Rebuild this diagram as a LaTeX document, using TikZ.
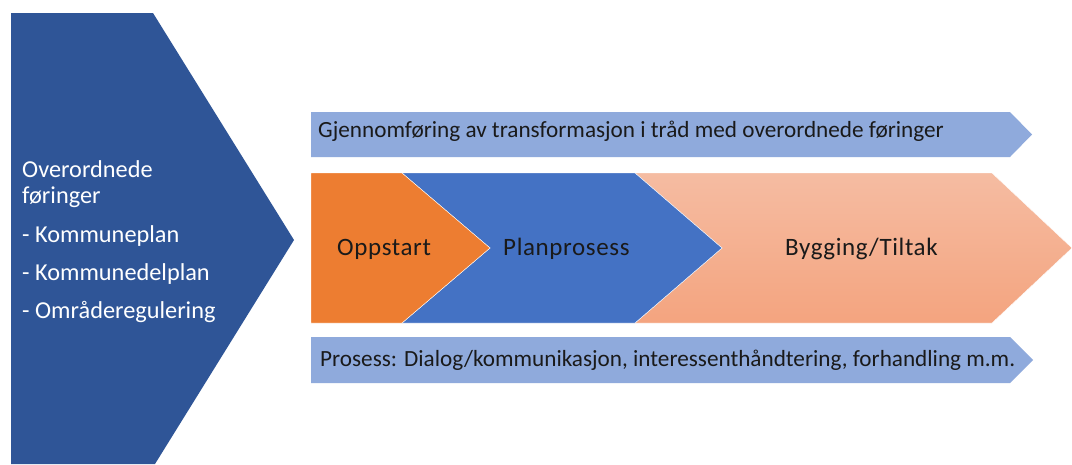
\documentclass[tikz,border=0pt]{standalone}
\usepackage{fontspec}
\setmainfont{Carlito}
\newfontfamily\phasefont[LetterSpace=2.5]{Carlito}
\definecolor{navy}{HTML}{2F5597}
\definecolor{paleblue}{HTML}{8FAADC}
\definecolor{phaseorange}{HTML}{ED7D31}
\definecolor{phaseblue}{HTML}{4472C4}
\definecolor{peachtop}{HTML}{F5BCA2}
\definecolor{peachbot}{HTML}{F4A47F}
\definecolor{ink}{HTML}{1A1A1A}
\tikzset{
  lefttext/.style={anchor=base west, inner sep=0pt, text=white, font=\fontsize{24.3}{28}\selectfont},
  bartext/.style={anchor=base west, inner sep=0pt, text=ink, font=\fontsize{23.2}{27}\selectfont},
  phasetext/.style={anchor=base west, inner sep=0pt, text=ink, font=\phasefont\fontsize{25}{29}\selectfont},
  shapeline/.style={draw=white, line width=0.4pt}
}
\begin{document}
\begin{tikzpicture}[x=1pt,y=-1pt]
\useasboundingbox (0,0) rectangle (1072,464);
\fill[white] (0,0) rectangle (1072,464);

% large chevron on the left
\fill[navy] (11,13) -- (153,13) -- (294,240) -- (155,464) -- (11,464) -- cycle;
\node[lefttext] (l1) at (22,177) {Overordnede};
\node[lefttext] (l2) at (22,203) {føringer};
\node[lefttext] (l3) at (22,242) {- Kommuneplan};
\node[lefttext] (l4) at (22,280) {- Kommunedelplan};
\node[lefttext] (l5) at (22,318) {- Områderegulering};

% upper bar
\fill[paleblue] (311,112) -- (1010,112) -- (1032,134.5) -- (1010,157) -- (311,157) -- cycle;
\node[bartext] (top) at (318,137) {Gjennomføring av transformasjon i tråd med overordnede føringer};

% phase chevrons
\path[shapeline, top color=peachtop, bottom color=peachbot]
  (635,173) -- (992,173) -- (1072,248) -- (992,323) -- (635,323) -- (722,248) -- cycle;
\path[shapeline, fill=phaseblue]
  (402,173) -- (635,173) -- (722,248) -- (635,323) -- (402,323) -- (490,248) -- cycle;
\path[shapeline, fill=phaseorange]
  (311,173) -- (402,173) -- (490,248) -- (402,323) -- (311,323) -- cycle;
\node[phasetext] (p1) at (337,255) {Oppstart};
\node[phasetext] (p2) at (503,255) {Planprosess};
\node[phasetext] (p3) at (785,255) {Bygging/Tiltak};

% lower bar
\fill[paleblue] (311,337) -- (1010,337) -- (1033,360) -- (1010,383) -- (311,383) -- cycle;
\node[bartext] (bot) at (320,366) {Prosess: Dialog/kommunikasjon, interessenthåndtering, forhandling m.m.};
\end{tikzpicture}
\end{document}
